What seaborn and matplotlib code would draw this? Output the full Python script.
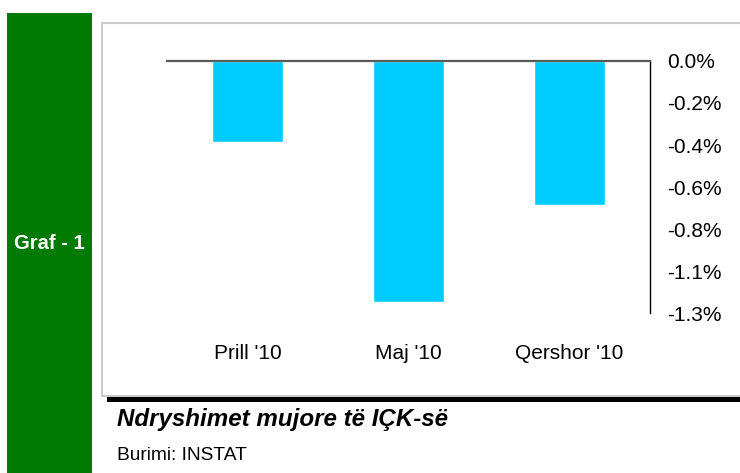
import numpy as np
import matplotlib
matplotlib.use("Agg")
import matplotlib.pyplot as plt
import seaborn as sns
from matplotlib.patches import Rectangle

# data
months = ["Prill '10", "Maj '10", "Qershor '10"]
changes = [-0.41, -1.22, -0.73]
ytick_vals = [0.0, -0.2125, -0.425, -0.6375, -0.85, -1.0625, -1.275]
ytick_labels = ["0.0%", "-0.2%", "-0.4%", "-0.6%", "-0.8%", "-1.1%", "-1.3%"]

title = "Ndryshimet mujore të IÇK-së"
source = "Burimi: INSTAT"
side_label = "Graf - 1"

W, H = 740, 473


def fx(px):
    return px / W


def fy(py):
    return 1 - py / H


sns.set_style("white")
plt.rcParams['font.family'] = ['Liberation Sans', 'DejaVu Sans']
plt.rcParams['text.color'] = 'black'

fig = plt.figure(figsize=(W / 100, H / 100), dpi=100)

# green side block
fig.patches.append(Rectangle((fx(7), fy(473)), fx(92) - fx(7), fy(13) - fy(473),
                             transform=fig.transFigure, facecolor="#007a00",
                             edgecolor="none", zorder=-1))
fig.text(fx(49.5), fy(243), side_label, color="white", fontsize=14.5,
         fontweight="bold", ha="center", va="center")

# panel frame and black rule under it
fig.patches.append(Rectangle((fx(102), fy(396)), fx(745) - fx(102), fy(23) - fy(396),
                             transform=fig.transFigure, facecolor="white",
                             edgecolor="#cccccc", linewidth=1.5, zorder=-1))
fig.patches.append(Rectangle((fx(107), fy(401.5)), fx(742) - fx(107), fy(396.5) - fy(401.5),
                             transform=fig.transFigure, facecolor="black",
                             edgecolor="none", zorder=-1))

ax = fig.add_axes([fx(167), fy(313), fx(650) - fx(167), fy(61) - fy(313)])
ax.set_zorder(1)
ax.patch.set_alpha(0)

sns.barplot(x=months, y=changes, color="#00ccff", saturation=1, width=0.435, ax=ax)

ax.set_xlim(-0.5, 2.5)
ax.set_ylim(ytick_vals[-1], 0)
ax.yaxis.tick_right()
ax.set_yticks(ytick_vals)
ax.set_yticklabels(ytick_labels)
ax.tick_params(axis="y", length=0, pad=12, labelsize=15, colors="black")
ax.tick_params(axis="x", length=0, pad=22.5, labelsize=15, colors="black")
ax.set_xlabel("")
ax.set_ylabel("")

for s in ["left", "bottom"]:
    ax.spines[s].set_visible(False)
ax.spines["top"].set_color("#5a5a5a")
ax.spines["top"].set_linewidth(1.6)
ax.spines["right"].set_color("black")
ax.spines["right"].set_linewidth(1.0)

fig.text(fx(117), fy(419), title, fontsize=17.4, fontweight="bold",
         fontstyle="italic", ha="left", va="center", color="black")
fig.text(fx(117), fy(455), source, fontsize=13.8, ha="left", va="center",
         color="black")

fig.savefig("out.png", dpi=100)
